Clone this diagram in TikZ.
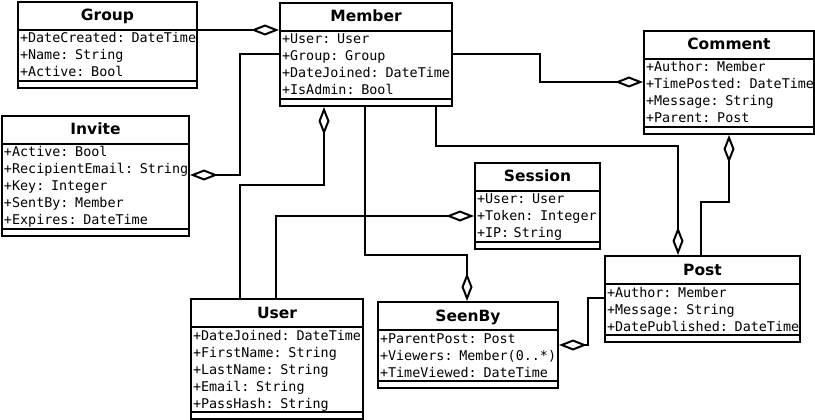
\documentclass[tikz,border=0pt]{standalone}
\usepackage{fontspec}
\usetikzlibrary{arrows.meta,shapes.multipart}
\newfontfamily\attfont{DejaVu Sans Mono}
\newfontfamily\ttlfont{DejaVu Sans}
\newcommand{\umltitle}[1]{\centering\ttlfont\bfseries\fontsize{15.5}{18}\selectfont\rule[-9pt]{0pt}{28pt}#1\par}
\newcommand{\umlattr}[1]{\mbox{\rule[-4pt]{0pt}{17pt}#1}\par}
\newcommand{\umlend}{\rule{0pt}{7pt}}

\begin{document}
\begin{tikzpicture}[x=1pt,y=-1pt,line join=miter,
  umlclass/.style={rectangle split,rectangle split parts=3,draw,line width=2pt,
    anchor=north west,inner xsep=2pt,inner ysep=-1pt,align=left,
    font=\attfont\fontsize{13.4}{17}\selectfont},
  agg/.style={line width=2pt,-{Diamond[open,length=28pt,width=11pt]}}]
\useasboundingbox (0,0) rectangle (815,420);
% classes
\node[umlclass,text width=175pt] (group) at (17,1) {\umltitle{Group}
  \nodepart{two}\umlattr{+DateCreated: DateTime}\umlattr{+Name: String}\umlattr{+Active: Bool}
  \nodepart{three}\umlend};
\node[umlclass,text width=168pt] (member) at (279,2) {\umltitle{Member}
  \nodepart{two}\umlattr{+User: User}\umlattr{+Group: Group}\umlattr{+DateJoined: DateTime}\umlattr{+IsAdmin: Bool}
  \nodepart{three}\umlend};
\node[umlclass,text width=166pt] (comment) at (643,30) {\umltitle{Comment}
  \nodepart{two}\umlattr{+Author: Member}\umlattr{+TimePosted: DateTime}\umlattr{+Message: String}\umlattr{+Parent: Post}
  \nodepart{three}\umlend};
\node[umlclass,text width=183pt] (invite) at (1,115) {\umltitle{Invite}
  \nodepart{two}\umlattr{+Active: Bool}\umlattr{+RecipientEmail: String}\umlattr{+Key: Integer}\umlattr{+SentBy: Member}\umlattr{+Expires: DateTime}
  \nodepart{three}\umlend};
\node[umlclass,text width=121pt] (session) at (474,162) {\umltitle{Session}
  \nodepart{two}\umlattr{+User: User}\umlattr{+Token: Integer}\umlattr{+IP: String}
  \nodepart{three}\umlend};
\node[umlclass,text width=168pt] (user) at (190,298) {\umltitle{User}
  \nodepart{two}\umlattr{+DateJoined: DateTime}\umlattr{+FirstName: String}\umlattr{+LastName: String}\umlattr{+Email: String}\umlattr{+PassHash: String}
  \nodepart{three}\umlend};
\node[umlclass,text width=176pt] (seenby) at (377,301) {\umltitle{SeenBy}
  \nodepart{two}\umlattr{+ParentPost: Post}\umlattr{+Viewers: Member(0..*)}\umlattr{+TimeViewed: DateTime}
  \nodepart{three}\umlend};
\node[umlclass,text width=191pt] (post) at (604,255) {\umltitle{Post}
  \nodepart{two}\umlattr{+Author: Member}\umlattr{+Message: String}\umlattr{+DatePublished: DateTime}
  \nodepart{three}\umlend};
% aggregations
\draw[agg] (group.east |- 0,30) -- (member.west |- 0,30);
\draw[agg] (member.west |- 0,54) -- (240,54) -- (240,175) -- (invite.east |- 0,175);
\draw[agg] (user.north -| 240,0) -- (240,185) -- (324,185) -- (member.south -| 324,0);
\draw[agg] (user.north -| 276,0) -- (276,216) -- (session.west |- 0,216);
\draw[agg] (member.south -| 365,0) -- (365,255) -- (467,255) -- (seenby.north -| 467,0);
\draw[agg] (member.south -| 436,0) -- (436,146) -- (678,146) -- (post.north -| 678,0);
\draw[agg] (post.north -| 701,0) -- (701,202) -- (729,202) -- (comment.south -| 729,0);
\draw[agg] (member.east |- 0,54) -- (540,54) -- (540,82) -- (comment.west |- 0,82);
\draw[agg] (post.west |- 0,298) -- (588,298) -- (588,345) -- (seenby.east |- 0,345);
\end{tikzpicture}
\end{document}
